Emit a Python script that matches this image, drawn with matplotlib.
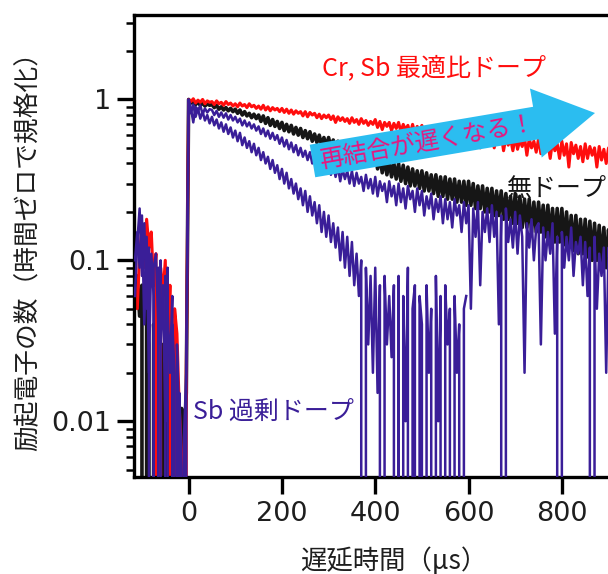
import numpy as np
import matplotlib

matplotlib.use("Agg")

import matplotlib.pyplot as plt  # noqa: E402
from matplotlib.patches import Polygon  # noqa: E402
from matplotlib.ticker import FixedLocator, FixedFormatter, LogLocator, NullFormatter  # noqa: E402

plt.rcParams["font.family"] = ["Noto Sans CJK JP", "DejaVu Sans"]

# delay grid (µs), 5 µs steps
delay = np.arange(-115, 915, 5)

# normalised excited-electron counts (values <= 0 fall below the log axis)
red_pre = [0.07, 0.05, 0.11, 0.16, 0.09, 0.18, 0.12, 0.15, 0.07, 0.11, -0.01, 0.09,
           0.06, 0.10, 0.02, 0.07, -0.02, 0.05, 0.035, 0.012, 0.006, -0.01, 0.02]
red_post = [
    1.00, 0.97, 1.01, 0.95, 0.99, 0.96, 1.00, 0.94, 0.98, 0.96,
    0.97, 0.93, 0.98, 0.94, 0.96, 0.92, 0.97, 0.93, 0.95, 0.91,
    0.94, 0.90, 0.95, 0.91, 0.93, 0.89, 0.94, 0.90, 0.92, 0.88,
    0.91, 0.87, 0.92, 0.86, 0.90, 0.85, 0.89, 0.86, 0.88, 0.84,
    0.88, 0.83, 0.87, 0.82, 0.86, 0.81, 0.85, 0.82, 0.84, 0.79,
    0.84, 0.78, 0.83, 0.80, 0.82, 0.77, 0.81, 0.76, 0.80, 0.77,
    0.80, 0.75, 0.79, 0.72, 0.78, 0.74, 0.77, 0.73, 0.76, 0.71,
    0.77, 0.72, 0.75, 0.70, 0.76, 0.71, 0.74, 0.69, 0.73, 0.70,
    0.75, 0.67, 0.73, 0.65, 0.72, 0.68, 0.72, 0.64, 0.71, 0.66,
    0.72, 0.63, 0.70, 0.65, 0.69, 0.61, 0.70, 0.62, 0.68, 0.63,
    0.69, 0.59, 0.67, 0.62, 0.68, 0.58, 0.66, 0.60, 0.65, 0.57,
    0.66, 0.58, 0.64, 0.55, 0.65, 0.59, 0.63, 0.54, 0.62, 0.56,
    0.64, 0.53, 0.61, 0.56, 0.63, 0.50, 0.60, 0.55, 0.61, 0.52,
    0.60, 0.50, 0.59, 0.54, 0.61, 0.48, 0.58, 0.52, 0.57, 0.48,
    0.59, 0.49, 0.56, 0.51, 0.58, 0.45, 0.57, 0.50, 0.55, 0.47,
    0.57, 0.46, 0.56, 0.49, 0.54, 0.43, 0.55, 0.48, 0.53, 0.43,
    0.55, 0.45, 0.53, 0.38, 0.54, 0.46, 0.52, 0.43, 0.51, 0.41,
    0.53, 0.43, 0.51, 0.45, 0.50, 0.38, 0.51, 0.42, 0.49, 0.40,
    0.50, 0.41, 0.48]

black_pre = [0.06, 0.08, 0.045, 0.07, -0.01, 0.05, 0.03, -0.01, 0.04, 0.02, 0.05, -0.02,
             0.03, 0.01, 0.04, -0.01, 0.02, 0.008, 0.015, -0.01, 0.012, 0.006, 0.015]
black_post = [
    1.00, 0.95, 0.97, 0.93, 0.96, 0.92, 0.95, 0.91, 0.94, 0.92,
    0.93, 0.89, 0.92, 0.87, 0.90, 0.86, 0.89, 0.85, 0.88, 0.84,
    0.87, 0.82, 0.86, 0.80, 0.84, 0.79, 0.82, 0.77, 0.81, 0.76,
    0.80, 0.73, 0.79, 0.71, 0.77, 0.69, 0.75, 0.68, 0.73, 0.66,
    0.72, 0.64, 0.70, 0.63, 0.69, 0.61, 0.67, 0.60, 0.66, 0.58,
    0.64, 0.57, 0.63, 0.55, 0.61, 0.54, 0.60, 0.52, 0.58, 0.51,
    0.58, 0.50, 0.56, 0.49, 0.55, 0.47, 0.53, 0.46, 0.52, 0.45,
    0.51, 0.44, 0.50, 0.42, 0.48, 0.41, 0.47, 0.40, 0.46, 0.39,
    0.46, 0.37, 0.44, 0.35, 0.43, 0.34, 0.42, 0.33, 0.40, 0.32,
    0.40, 0.31, 0.39, 0.30, 0.38, 0.29, 0.37, 0.29, 0.36, 0.28,
    0.36, 0.27, 0.35, 0.27, 0.34, 0.26, 0.34, 0.25, 0.33, 0.25,
    0.33, 0.24, 0.32, 0.24, 0.32, 0.23, 0.31, 0.23, 0.31, 0.22,
    0.31, 0.22, 0.30, 0.21, 0.29, 0.21, 0.29, 0.20, 0.28, 0.20,
    0.28, 0.19, 0.27, 0.19, 0.27, 0.18, 0.26, 0.18, 0.25, 0.17,
    0.26, 0.17, 0.25, 0.16, 0.24, 0.16, 0.24, 0.15, 0.23, 0.15,
    0.23, 0.15, 0.22, 0.14, 0.22, 0.135, 0.21, 0.13, 0.21, 0.13,
    0.21, 0.125, 0.20, 0.12, 0.19, 0.115, 0.19, 0.11, 0.18, 0.11,
    0.18, 0.105, 0.175, 0.10, 0.17, 0.10, 0.165, 0.095, 0.16, 0.09,
    0.155, 0.09, 0.15]

sb_slow_pre = [0.06, 0.13, 0.21, 0.08, 0.17, 0.05, 0.12, -0.01, 0.09, 0.11, 0.04, 0.10,
               -0.02, 0.08, 0.05, 0.02, 0.06, -0.01, 0.03, 0.01, -0.02, 0.008, 0.02]
sb_slow_post = [
    1.00, 0.88, 0.72, 0.90, 0.84, 0.92, 0.81, 0.88, 0.83, 0.87,
    0.86, 0.80, 0.85, 0.78, 0.83, 0.77, 0.82, 0.75, 0.80, 0.74,
    0.78, 0.72, 0.76, 0.69, 0.74, 0.68, 0.72, 0.66, 0.70, 0.64,
    0.68, 0.61, 0.66, 0.59, 0.64, 0.57, 0.62, 0.56, 0.60, 0.53,
    0.58, 0.51, 0.56, 0.49, 0.54, 0.47, 0.52, 0.45, 0.50, 0.44,
    0.48, 0.42, 0.47, 0.40, 0.45, 0.38, 0.44, 0.37, 0.42, 0.36,
    0.41, 0.34, 0.39, 0.33, 0.38, 0.31, 0.37, 0.32, 0.36, 0.30,
    0.36, 0.29, 0.35, 0.30, 0.33, 0.27, 0.34, 0.28, 0.32, 0.26,
    0.33, 0.25, 0.31, 0.27, 0.30, 0.23, 0.31, 0.25, 0.29, 0.22,
    0.30, 0.23, 0.28, 0.21, 0.29, 0.24, 0.27, 0.20, 0.28, 0.22,
    0.27, 0.19, 0.25, 0.21, 0.26, 0.18, 0.24, 0.20, 0.25, 0.17,
    0.24, 0.18, 0.23, 0.16, 0.24, 0.19, 0.22, 0.15, 0.23, 0.17,
    0.22, 0.05, 0.21, 0.14, 0.23, 0.07, 0.20, 0.15, 0.21, 0.13,
    0.22, 0.14, 0.20, 0.04, 0.19, -0.01, 0.21, 0.13, 0.18, 0.12,
    0.20, 0.11, 0.19, 0.14, 0.02, 0.17, 0.12, 0.18, 0.10, 0.16,
    0.17, 0.03, 0.16, 0.10, 0.15, 0.11, 0.17, 0.035, 0.14, -0.01,
    0.15, 0.09, 0.14, 0.10, 0.16, 0.08, 0.13, 0.11, 0.14, 0.07,
    0.13, 0.06, 0.12, -0.01, 0.14, 0.05, 0.11, 0.08, 0.12, 0.02,
    0.12, 0.07, 0.11]

sb_fast_pre = [0.10, 0.15, 0.09, 0.19, 0.04, 0.14, 0.02, 0.11, 0.06, -0.02, 0.09, 0.03,
               0.07, 0.01, 0.09, -0.01, 0.04, 0.02, -0.01, 0.015, 0.005, -0.01, 0.02]
sb_fast_post = [
    1.00, 0.82, 0.93, 0.78, 0.88, 0.76, 0.84, 0.74, 0.80, 0.71,
    0.78, 0.69, 0.75, 0.66, 0.72, 0.63, 0.70, 0.61, 0.67, 0.58,
    0.64, 0.55, 0.62, 0.52, 0.58, 0.50, 0.55, 0.47, 0.53, 0.45,
    0.50, 0.42, 0.47, 0.40, 0.44, 0.37, 0.42, 0.35, 0.39, 0.32,
    0.37, 0.30, 0.35, 0.28, 0.32, 0.26, 0.30, 0.24, 0.28, 0.22,
    0.27, 0.20, 0.25, 0.19, 0.23, 0.17, 0.22, 0.15, 0.20, 0.14,
    0.19, 0.13, 0.17, 0.12, 0.16, 0.10, 0.15, 0.09, 0.14, 0.08,
    0.13, 0.07, 0.11, 0.06, 0.10, -0.01, 0.09, 0.03, 0.08, 0.02,
    0.09, 0.015, 0.07, -0.02, 0.08, 0.03, 0.06, 0.025, 0.07, -0.01,
    0.08, -0.02, 0.06, 0.01, 0.09, -0.01, 0.05, 0.07, -0.02, 0.06,
    0.04, -0.01, 0.07, 0.02, 0.05, -0.03, 0.08, 0.01, 0.06, -0.02,
    0.07, 0.03, 0.05, -0.01, 0.06, 0.02, 0.04, -0.02, 0.05, 0.06]

RED = "#ff0d0d"
BLACK = "#161616"
PURPLE = "#3a1e98"
CYAN = "#2bbdf0"
MAGENTA = "#e6177f"

W, H = 608, 574
fig = plt.figure(figsize=(W / 100, H / 100), dpi=100)
# axes run past the right edge of the canvas, like the cropped original
ax = fig.add_axes([0.2212, 0.1690, 0.8564, 0.8049])

ax.plot(delay, black_pre + black_post, color=BLACK, lw=2.6, zorder=2)
ax.plot(delay, red_pre + red_post, color=RED, lw=2.2, zorder=2)
ax.plot(delay, sb_slow_pre + sb_slow_post, color=PURPLE, lw=1.8, zorder=3)
fast = sb_fast_pre + sb_fast_post
ax.plot(delay[:len(fast)], fast, color=PURPLE, lw=1.8, zorder=3)

ax.set_yscale("log")
ax.set_xlim(-116, 1000)
ax.set_ylim(0.0045, 3.35)

ax.xaxis.set_major_locator(FixedLocator([0, 200, 400, 600, 800]))
ax.yaxis.set_major_locator(FixedLocator([0.01, 0.1, 1]))
ax.yaxis.set_major_formatter(FixedFormatter(["0.01", "0.1", "1"]))
ax.yaxis.set_minor_locator(LogLocator(base=10, subs=np.arange(2, 10)))
ax.yaxis.set_minor_formatter(NullFormatter())

for spine in ax.spines.values():
    spine.set_linewidth(2.4)
ax.tick_params(which="major", length=12, width=2.4, labelsize=19.5, pad=5,
               labelcolor="#1e1e1e")
ax.tick_params(which="minor", length=6, width=1.8)
for lbl in ax.get_xticklabels() + ax.get_yticklabels():
    lbl.set_fontfamily("DejaVu Sans")

fig.text(0.046, 0.573, "励起電子の数（時間ゼロで規格化）", rotation=90,
         ha="center", va="center", fontsize=18.5, color="#1e1e1e")
fig.text(0.648, 0.023, "遅延時間（μs）", ha="center", va="center",
         fontsize=19, color="#1e1e1e")

ax.text(286, 1.57, "Cr, Sb 最適比ドープ", color=RED, fontsize=18, ha="left", va="center")
ax.text(683, 0.28, "無ドープ", color=BLACK, fontsize=18, ha="left", va="center", zorder=5)
ax.text(10, 0.0115, "Sb 過剰ドープ", color=PURPLE, fontsize=18, ha="left", va="center")

# big cyan arrow, laid out in pixel units of the canvas
start = np.array([312.5, 161.0])
tip = np.array([595.0, 113.0])
body_half, head_half, head_len = 16.5, 35.0, 60.0
u = (tip - start) / np.linalg.norm(tip - start)
n = np.array([u[1], -u[0]])
neck = tip - head_len * u
pts = [start + body_half * n, neck + body_half * n, neck + head_half * n, tip,
       neck - head_half * n, neck - body_half * n, start - body_half * n]
pts = [(p[0] / W, 1 - p[1] / H) for p in pts]
fig.add_artist(Polygon(pts, closed=True, facecolor=CYAN, edgecolor="none",
                       transform=fig.transFigure, zorder=4))
fig.text(427 / W, 1 - 142 / H, "再結合が遅くなる！", color=MAGENTA, fontsize=17.5,
         rotation=10, rotation_mode="anchor", ha="center", va="center", zorder=5)

fig.savefig("out.png", dpi=100)
plt.close(fig)
